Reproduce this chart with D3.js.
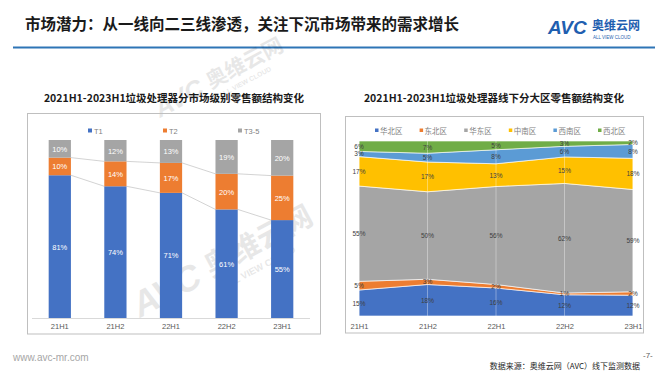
<!DOCTYPE html>
<html><head><meta charset="utf-8">
<script src="https://cdn.jsdelivr.net/npm/d3@7"></script>
<style>
html,body{margin:0;padding:0;background:#fff;}
svg{display:block;font-family:"Noto Sans CJK SC","Noto Sans",sans-serif;}
</style></head>
<body><svg id="c" width="667" height="375"></svg>
<script>
// ---------- data ----------
const pageTitle = "市场潜力：从一线向二三线渗透，关注下沉市场带来的需求增长";
const leftTitle = "2021H1-2023H1垃圾处理器分市场级别零售额结构变化";
const rightTitle = "2021H1-2023H1垃圾处理器线下分大区零售额结构变化";
const periods = ["21H1","21H2","22H1","22H2","23H1"];
const tierNames = ["T1","T2","T3-5"];
const tierT1 = [81,74,71,61,55];
const tierT2 = [10,14,17,20,25];
const tierT35 = [10,12,13,19,20];
const regionNames = ["华北区","东北区","华东区","中南区","西南区","西北区"];
const rHuabei = [15,18,16,12,12];
const rDongbei = [5,3,2,1,2];
const rHuadong = [55,50,56,62,59];
const rZhongnan = [17,17,13,15,18];
const rXinan = [3,5,8,6,8];
const rXibei = [6,7,5,3,2];
const tierColors = ["#4472c4","#ed7d31","#a5a5a5"];
const regionColors = ["#4472c4","#ed7d31","#a5a5a5","#ffc000","#5b9bd5","#70ad47"];

const svg = d3.select("#c");

// ---------- header ----------
svg.append("text").attr("x",25).attr("y",30).attr("font-size",15.5).attr("font-weight","bold")
  .attr("fill","#1a1a1a").text(pageTitle);
svg.append("line").attr("x1",13).attr("x2",655).attr("y1",47.5).attr("y2",47.5)
  .attr("stroke","#2e75b6").attr("stroke-width",2);
svg.append("text").attr("x",548).attr("y",34).attr("font-size",19).attr("font-weight","bold")
  .attr("font-style","italic").attr("font-family","Liberation Sans, Arial").attr("fill","#1f5fb0").text("AVC");
svg.append("text").attr("x",592).attr("y",30).attr("font-size",12).attr("font-weight","bold")
  .attr("fill","#1f5fb0").text("奥维云网");
svg.append("text").attr("x",593).attr("y",38.5).attr("font-size",4.5)
  .attr("fill","#1f5fb0").attr("font-family","Liberation Sans, Arial").text("ALL VIEW CLOUD");

// ---------- watermarks ----------
function watermark(x,y,s){
  const g = svg.append("g").attr("transform",`translate(${x},${y}) rotate(-28) scale(${s})`).attr("opacity",0.09);
  g.append("text").attr("font-size",34).attr("font-weight","bold").attr("font-style","italic")
   .attr("font-family","Liberation Sans, Arial").attr("fill","#000").text("AVC");
  g.append("text").attr("x",78).attr("y",-2).attr("font-size",28).attr("font-weight","bold").attr("fill","#000").text("奥维云网");
  g.append("text").attr("x",84).attr("y",14).attr("font-size",9).attr("font-weight","bold")
   .attr("font-family","Liberation Sans, Arial").attr("fill","#000").text("ALL VIEW CLOUD");
}
watermark(160,118,0.75);
watermark(140,318,1.05);
watermark(385,300,1.05);

// ---------- left chart ----------
svg.append("text").attr("x",174).attr("y",102).attr("text-anchor","middle").attr("font-size",10.5)
  .attr("font-weight","bold").attr("fill","#1a1a1a").text(leftTitle);
svg.append("rect").attr("x",27.5).attr("y",113.5).attr("width",293).attr("height",220.5)
  .attr("fill","none").attr("stroke","#bfbfbf");

const tierRows = periods.map((p,i)=>({p, "T1":tierT1[i], "T2":tierT2[i], "T3-5":tierT35[i]}));
const tierStack = d3.stack().keys(tierNames).offset(d3.stackOffsetExpand)(tierRows);
const xl = d3.scaleBand().domain(periods).range([32,310]).paddingInner(0.6).paddingOuter(0.3);
const yl = d3.scaleLinear().domain([0,1]).range([318,140]);

// connector lines
[0,1].forEach(k=>{
  const s = tierStack[k];
  for(let i=0;i<periods.length-1;i++){
    svg.append("line").attr("x1",xl(periods[i])+xl.bandwidth()).attr("y1",yl(s[i][1]))
      .attr("x2",xl(periods[i+1])).attr("y2",yl(s[i+1][1]))
      .attr("stroke","#c8c8c8").attr("stroke-width",0.8);
  }
});
const tierVals = [tierT1,tierT2,tierT35];
tierStack.forEach((s,k)=>{
  svg.append("g").selectAll("rect").data(s).join("rect")
    .attr("x",(d,i)=>xl(periods[i])).attr("width",xl.bandwidth())
    .attr("y",d=>yl(d[1])).attr("height",d=>yl(d[0])-yl(d[1])).attr("fill",tierColors[k]);
  svg.append("g").selectAll("text").data(s).join("text")
    .attr("x",(d,i)=>xl(periods[i])+xl.bandwidth()/2).attr("y",d=>(yl(d[0])+yl(d[1]))/2+3)
    .attr("text-anchor","middle").attr("font-size",7.5).attr("fill","#fff")
    .attr("font-family","Liberation Sans, Arial")
    .text((d,i)=>tierVals[k][i]+"%");
});
const axL = svg.append("g").attr("transform","translate(0,318)")
  .call(d3.axisBottom(xl).tickSize(0).tickPadding(6));
axL.select(".domain").attr("d","M32,0.5H310").attr("stroke","#d9d9d9");
axL.selectAll("text").attr("font-size",7.5).attr("fill","#595959").attr("font-family","Liberation Sans, Arial");
// legend
const legL = svg.append("g");
tierNames.forEach((n,i)=>{
  const x = 88 + i*75;
  legL.append("rect").attr("x",x).attr("y",128.5).attr("width",4).attr("height",4).attr("fill",tierColors[i]);
  legL.append("text").attr("x",x+6).attr("y",133.5).attr("font-size",7.5).attr("fill","#7f7f7f")
    .attr("font-family","Liberation Sans, Arial").text(n);
});

// ---------- right chart ----------
svg.append("text").attr("x",494).attr("y",102).attr("text-anchor","middle").attr("font-size",10.5)
  .attr("font-weight","bold").attr("fill","#1a1a1a").text(rightTitle);
svg.append("rect").attr("x",345.5).attr("y",116.5).attr("width",298).attr("height",216.5)
  .attr("fill","none").attr("stroke","#bfbfbf");
const regVals = [rHuabei,rDongbei,rHuadong,rZhongnan,rXinan,rXibei];
const regRows = periods.map((p,i)=>{const o={p}; regionNames.forEach((n,k)=>o[n]=regVals[k][i]); return o;});
const regStack = d3.stack().keys(regionNames).offset(d3.stackOffsetExpand)(regRows);
const xr = d3.scalePoint().domain(periods).range([359,633]);
const yr = d3.scaleLinear().domain([0,1]).range([316,141]);
const area = d3.area().x((d,i)=>xr(periods[i])).y0(d=>yr(d[0])).y1(d=>yr(d[1]));
regStack.forEach((s,k)=>{
  svg.append("path").datum(s).attr("d",area).attr("fill",regionColors[k])
    .attr("stroke","#fff").attr("stroke-width",0.8).attr("stroke-opacity",0.8);
});
periods.forEach(p=>{
  svg.append("line").attr("x1",xr(p)).attr("x2",xr(p)).attr("y1",141).attr("y2",316)
    .attr("stroke","#fff").attr("stroke-opacity",0.45).attr("stroke-width",0.8);
});
regStack.forEach((s,k)=>{
  svg.append("g").selectAll("text").data(s).join("text")
    .attr("x",(d,i)=>xr(periods[i])).attr("y",d=>(yr(d[0])+yr(d[1]))/2+2.5)
    .attr("text-anchor","middle").attr("font-size",6.5).attr("fill","#404040")
    .attr("font-family","Liberation Sans, Arial")
    .text((d,i)=>regVals[k][i]+"%");
});
const axR = svg.append("g").attr("transform","translate(0,316)")
  .call(d3.axisBottom(xr).tickSize(0).tickPadding(8));
axR.select(".domain").remove();
axR.selectAll("text").attr("font-size",7.5).attr("fill","#595959").attr("font-family","Liberation Sans, Arial");
const legR = svg.append("g");
regionNames.forEach((n,i)=>{
  const x = 375 + i*44.6;
  legR.append("rect").attr("x",x).attr("y",128.5).attr("width",3.5).attr("height",3.5).attr("fill",regionColors[i]);
  legR.append("text").attr("x",x+5).attr("y",133.5).attr("font-size",7.5).attr("fill","#7f7f7f").text(n);
});

// ---------- footer ----------
svg.append("text").attr("x",13).attr("y",361).attr("font-size",10).attr("fill","#a6a6a6")
  .attr("font-family","Liberation Sans, Arial").text("www.avc-mr.com");
svg.append("text").attr("x",640).attr("y",369).attr("text-anchor","end").attr("font-size",8)
  .attr("fill","#262626").text("数据来源：奥维云网（AVC）线下监测数据");
svg.append("text").attr("x",643).attr("y",358).attr("font-size",8).attr("fill","#595959")
  .attr("font-family","Liberation Sans, Arial").text("-7-");
</script></body></html>
